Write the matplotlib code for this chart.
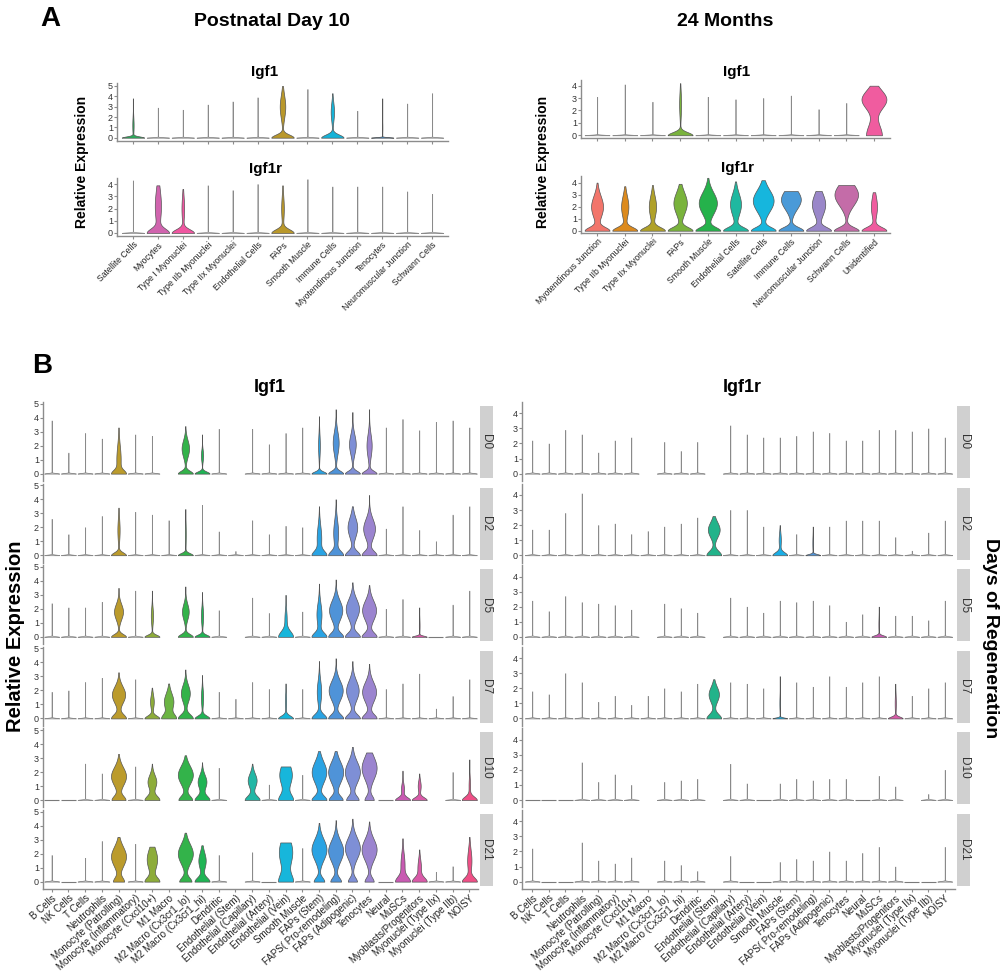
import matplotlib.pyplot as plt
import numpy as np

plt.rcParams['font.family'] = ['Liberation Sans', 'DejaVu Sans']

# ---------------- Panel A data ----------------
p10_cells = ["Satellite Cells", "Myocytes", "Type I Myonuclei", "Type IIb Myonuclei",
             "Type IIx Myonuclei", "Endothelial Cells", "FAPs", "Smooth Muscle",
             "Immune Cells", "Myotendinous Junction", "Tenocytes",
             "Neuromuscular Junction", "Schwann Cells"]
p10_colors = ["#2aad5a", "#d064ae", "#ef56a0", "#c9a13a", "#8fac3e", "#22b7a5", "#b9982b",
              "#1aaee6", "#16b3d8", "#9a87c9", "#3d8fd6", "#cc6cbd", "#f05c9f"]
# max expression per cell type; violin shape = (base, base_spread, bulge, bulge_centre, bulge_spread)
p10_igf1_top = [3.8, 2.9, 2.7, 3.2, 3.5, 3.9, 5.0, 4.7, 4.3, 2.6, 3.8, 3.3, 4.3]
p10_igf1_shape = {0: (1, 0.12, 0.06, 1.2, 0.8), 6: (1, 0.3, 0.25, 3.0, 1.1),
                  8: (1, 0.3, 0.15, 2.5, 0.9), 10: (1, 0.05, 0.02, 1.0, 0.5)}
p10_igf1r_top = [4.3, 3.9, 3.6, 3.9, 3.5, 4.0, 3.9, 4.4, 3.8, 3.8, 3.8, 3.4, 3.2]
p10_igf1r_shape = {1: (1, 0.35, 0.3, 2.2, 1.4), 2: (1, 0.3, 0.12, 2.0, 1.0),
                   6: (1, 0.3, 0.12, 2.0, 1.0)}

m24_cells = ["Myotendinous Junction", "Type IIb Myonuclei", "Type IIx Myonuclei", "FAPs",
             "Smooth Muscle", "Endothelial Cells", "Satellite Cells", "Immune Cells",
             "Neuromuscular Junction", "Schwann Cells", "Unidentified"]
m24_colors = ["#f2756b", "#dc8a1d", "#b0a129", "#79b33c", "#25b24b", "#1fb8a0",
              "#16b6dd", "#4a9ad8", "#9a87c9", "#c46ca8", "#f05c9f"]
m24_igf1_top = [3.1, 4.1, 2.7, 4.2, 3.1, 2.9, 3.0, 3.2, 2.1, 2.6, 4.0]
m24_igf1_shape = {3: (1, 0.25, 0.08, 2.5, 1.0), 10: (0.35, 0.9, 0.55, 2.9, 0.75)}
m24_igf1r_top = [4.0, 3.7, 3.8, 3.9, 4.4, 4.1, 4.2, 3.3, 3.3, 3.8, 3.2]
m24_igf1r_shape = {0: (1, 0.3, 0.5, 2.0, 0.9), 1: (1, 0.3, 0.3, 2.0, 0.9),
                   2: (1, 0.3, 0.3, 2.0, 0.9), 3: (1, 0.3, 0.55, 2.3, 0.9),
                   4: (1, 0.3, 0.75, 2.3, 0.9), 5: (1, 0.3, 0.45, 2.2, 0.9),
                   6: (1, 0.3, 0.85, 2.5, 0.9), 7: (1, 0.3, 0.8, 2.6, 0.8),
                   8: (1, 0.3, 0.55, 2.2, 0.9), 9: (1, 0.3, 0.95, 3.0, 0.9),
                   10: (1, 0.3, 0.25, 2.0, 0.9)}

# ---------------- Panel B data ----------------
b_cells = ["B Cells", "NK Cells", "T Cells", "Neutrophils", "Monocyte (Patrolling)",
           "Monocyte (Inflammatory)", "Monocyte (Cxcl10+)", "M1 Macro",
           "M2 Macro (Cx3cr1_lo)", "M2 Macro (Cx3cr1_hi)", "Dendritic",
           "Endothelial (Stem)", "Endothelial (Capillary)", "Endothelial (Artery)",
           "Endothelial (Vein)", "Smooth Muscle", "FAPs (Stem)", "FAPS( Pro-remodeling)",
           "FAPs (Adipogenic)", "Tenocytes", "Neural", "MuSCs", "Myoblasts/Progenitors",
           "Myonuclei (Type IIx)", "Myonuclei (Type IIb)", "NOISY"]
b_colors = ["#f07a6e", "#e88338", "#dc8c1a", "#cf9419", "#bb9b2c", "#a7a32c", "#8dac3a",
            "#6bb443", "#33b34a", "#1fb454", "#1bb67a", "#22b38a", "#22b7a5", "#1cb8c0",
            "#17b6db", "#1aaee6", "#2aa3e3", "#4f93d8", "#7e8fd6", "#9b84cf", "#b87ccd",
            "#c85ab2", "#d95aa8", "#e65b9e", "#ee5790", "#ef4f86"]
days = ["D0", "D2", "D5", "D7", "D10", "D21"]

igf1_d0 = [3.8, 1.5, 2.9, 2.5, 3.3, 2.8, 2.7, None, 3.4, 2.8, 3.2, None, 3.2, 2.1, 2.9, 3.3,
           4.1, 4.6, 4.4, 4.6, 3.3, 3.9, 3.1, 3.7, 3.8, 3.3]
igf1_d2 = [2.6, 1.5, 2.0, 2.8, 3.4, 3.1, 2.9, 2.5, 3.3, 3.6, 1.7, 0.3, 2.5, 1.5, 2.1, 2.0,
           3.5, 4.0, 3.5, 4.3, 1.9, 3.5, 1.8, 1.0, 2.9, 3.5]
igf1_d5 = [2.4, 2.1, 2.1, 2.5, 3.5, 3.3, 3.3, None, 3.6, 3.2, 1.9, None, 2.8, 1.7, 3.0, 1.8,
           3.8, 4.1, 3.9, 3.7, 2.0, 2.7, 2.1, 0.0, 2.3, 3.3]
igf1_d7 = [1.9, 2.0, 2.6, 2.9, 3.3, 2.8, 2.2, 2.5, 3.5, 3.1, 1.9, 1.4, 2.6, 2.1, 2.5, 2.1,
           4.1, 4.3, 4.1, 3.9, 2.1, 2.5, 3.2, 0.7, 1.6, 2.8]
igf1_d10 = [0.0, 0.0, 2.6, 1.9, 3.3, 2.4, 2.6, None, 3.2, 2.7, 2.3, None, 2.6, 1.1, 2.4, 1.8,
            3.5, 3.5, 3.8, 3.4, 0.0, 2.1, 1.9, None, 2.0, 2.9]
igf1_d21 = [1.9, 0.0, 1.7, 2.9, 3.2, 2.7, 2.5, None, 3.5, 2.6, 1.9, None, 2.1, 0.0, 2.8, 2.4,
            4.2, 4.4, 4.5, 4.3, 0.0, 3.1, 2.3, 0.7, 1.1, 3.2]

igf1_d0_shape = {4: (1, 0.25, 0.35, 1.0, 1.0), 8: (1, 0.2, 0.5, 1.8, 0.6),
                 9: (1, 0.15, 0.15, 1.3, 0.4), 16: (1, 0.15, 0.12, 2.0, 0.8),
                 17: (1, 0.2, 0.4, 2.2, 0.8), 18: (1, 0.2, 0.45, 2.1, 0.7),
                 19: (1, 0.2, 0.35, 2.0, 0.8)}
igf1_d2_shape = {4: (1, 0.2, 0.15, 1.8, 0.8), 8: (1, 0.15, 0.06, 1.5, 0.8),
                 16: (1, 0.3, 0.35, 1.2, 0.9), 17: (1, 0.3, 0.35, 1.6, 0.9),
                 18: (1, 0.3, 0.65, 2.0, 0.7), 19: (1, 0.3, 0.8, 1.9, 0.7)}
igf1_d5_shape = {4: (1, 0.2, 0.6, 1.8, 0.55), 6: (1, 0.15, 0.15, 1.5, 0.6),
                 8: (1, 0.2, 0.45, 1.8, 0.55), 9: (1, 0.15, 0.15, 1.5, 0.6),
                 14: (1, 0.4, 0.15, 1.3, 0.6), 16: (1, 0.3, 0.35, 1.6, 0.8),
                 17: (1, 0.3, 0.9, 1.9, 0.7), 18: (1, 0.3, 0.9, 2.0, 0.7),
                 19: (1, 0.3, 0.95, 1.9, 0.7), 22: (1, 0.08, 0.05, 0.8, 0.5)}
igf1_d7_shape = {4: (1, 0.3, 0.9, 1.7, 0.6), 6: (1, 0.2, 0.25, 1.2, 0.5),
                 7: (1, 0.3, 0.7, 1.2, 0.6), 8: (1, 0.3, 0.6, 1.8, 0.6),
                 9: (1, 0.2, 0.15, 1.5, 0.6), 14: (1, 0.2, 0.08, 1.2, 0.6),
                 16: (1, 0.3, 0.3, 1.9, 0.8), 17: (1, 0.3, 0.95, 2.0, 0.7),
                 18: (1, 0.3, 0.85, 2.0, 0.7), 19: (1, 0.3, 0.95, 1.9, 0.7)}
igf1_d10_shape = {4: (0.9, 0.3, 1.0, 1.7, 0.65), 6: (1, 0.3, 0.6, 1.3, 0.5),
                  8: (0.9, 0.3, 1.0, 1.8, 0.65), 9: (1, 0.3, 0.6, 1.3, 0.5),
                  12: (1, 0.3, 0.6, 1.4, 0.5), 14: (1, 0.4, 0.9, 1.8, 0.8),
                  16: (1, 0.3, 1.0, 2.0, 0.75), 17: (0.9, 0.3, 1.0, 2.0, 0.75),
                  18: (0.8, 0.3, 1.0, 2.0, 0.75), 19: (0.6, 0.3, 1.0, 2.3, 0.8),
                  21: (1, 0.2, 0.2, 0.8, 0.4), 22: (1, 0.2, 0.2, 1.0, 0.4),
                  25: (1, 0.25, 0.1, 1.0, 0.6)}
igf1_d21_shape = {4: (0.7, 0.3, 1.0, 1.8, 0.7), 6: (1, 0.3, 0.75, 1.6, 0.75),
                  8: (0.8, 0.3, 1.0, 2.0, 0.7), 9: (1, 0.3, 0.5, 1.5, 0.6),
                  14: (0.9, 0.5, 0.9, 2.1, 1.0), 16: (0.7, 0.3, 1.0, 2.3, 0.75),
                  17: (0.7, 0.3, 1.0, 2.2, 0.75), 18: (0.6, 0.3, 1.0, 2.4, 0.75),
                  19: (0.6, 0.3, 1.0, 2.3, 0.75), 21: (1, 0.35, 0.3, 1.2, 0.8),
                  22: (1, 0.3, 0.25, 1.0, 0.6), 25: (1, 0.3, 0.3, 1.5, 0.8)}

igf1r_d0 = [2.2, 2.0, 2.9, 2.6, 1.4, 2.2, 2.4, None, 2.1, 1.5, 2.1, None, 3.2, 2.6, 2.4, 2.4,
            2.5, 2.8, 2.7, 2.2, 2.2, 2.9, 2.9, 2.8, 3.0, 2.4]
igf1r_d2 = [1.7, 1.7, 2.8, 4.1, 2.0, 2.1, 1.4, 1.6, 1.9, 2.1, 2.5, 2.6, 3.0, 3.0, 1.9, 2.0,
            1.4, 1.9, 1.9, 2.3, 2.3, 2.3, 1.2, 0.3, 1.5, 2.3]
igf1r_d5 = [2.4, 1.7, 2.7, 2.3, 2.2, 2.1, 1.8, None, 2.2, 1.9, 1.6, None, 2.6, 2.0, 1.6, 2.4,
            2.3, 2.4, 2.1, 1.0, 1.5, 2.0, 1.4, 1.4, 1.1, 2.4]
igf1r_d7 = [1.8, 1.6, 3.0, 2.4, 1.1, 1.5, 0.9, 1.5, 2.0, 1.8, 2.3, 2.6, 2.4, 2.3, 2.0, 2.8,
            2.4, 2.1, 2.8, 2.1, 2.4, 2.8, 2.3, 1.5, 2.0, 2.4]
igf1r_d10 = [0.0, 0.0, 0.0, 2.5, 1.2, 1.7, 1.0, None, 1.2, 1.3, 1.4, None, 2.4, 1.1, 0.0, 1.1,
             1.4, 1.3, 1.4, 1.4, 0.0, 1.6, 0.9, None, 0.4, 2.0]
igf1r_d21 = [2.2, 0.0, 0.0, 2.6, 1.4, 1.2, 1.6, None, 1.4, 1.1, 0.7, None, 1.7, 0.0, 0.0, 1.3,
             1.5, 1.4, 2.0, 1.4, 1.9, 2.3, 1.0, 0.0, 0.0, 2.3]

igf1r_d0_shape = {}
igf1r_d2_shape = {11: (1, 0.3, 0.8, 1.7, 0.5), 15: (1, 0.2, 0.15, 1.0, 0.5),
                  17: (0.9, 0.08, 0.05, 0.8, 0.5)}
igf1r_d5_shape = {21: (1, 0.1, 0.05, 0.8, 0.5)}
igf1r_d7_shape = {11: (1, 0.3, 0.7, 1.6, 0.5), 15: (0.6, 0.06, 0.03, 1.0, 0.5),
                  22: (1, 0.12, 0.08, 1.0, 0.6)}
igf1r_d10_shape = {}
igf1r_d21_shape = {}

igf1_rows = [igf1_d0, igf1_d2, igf1_d5, igf1_d7, igf1_d10, igf1_d21]
igf1_shapes = [igf1_d0_shape, igf1_d2_shape, igf1_d5_shape, igf1_d7_shape,
               igf1_d10_shape, igf1_d21_shape]
igf1r_rows = [igf1r_d0, igf1r_d2, igf1r_d5, igf1r_d7, igf1r_d10, igf1r_d21]
igf1r_shapes = [igf1r_d0_shape, igf1r_d2_shape, igf1r_d5_shape, igf1r_d7_shape,
                igf1r_d10_shape, igf1r_d21_shape]

# ---------------- drawing helpers ----------------
W, H = 1008, 973
fig = plt.figure(figsize=(W / 100, H / 100), dpi=100)
LINE_SHAPE = (1, 0.04, 0.0, 0.0, 1.0)


def px_axes(x0, y0, x1, y1):
    """Axes from pixel box (top-left origin)."""
    return fig.add_axes([x0 / W, 1 - y1 / H, (x1 - x0) / W, (y1 - y0) / H])


def draw_violin(ax, x, top, shape, color, half=0.45):
    if top is None:
        return
    if top == 0:
        ax.hlines(0, x - half, x + half, color="#7a7a7a", lw=0.8, zorder=2)
        return
    if shape is None:
        shape, face, edge = LINE_SHAPE, "#c8c8c8", "#8a8a8a"
    else:
        face, edge = color, "#555555"
    b, h0, m, c, s = shape
    y = np.linspace(0, top, 300)
    w = b * np.exp(-0.5 * (y / h0) ** 2) + m * np.exp(-0.5 * ((y - c) / s) ** 2)
    w = np.maximum(w / w.max(), 0.012)
    ax.fill_betweenx(y, x - half * w, x + half * w, facecolor=face, edgecolor=edge,
                     lw=0.5, zorder=2)


def style_axes(ax, n, ylim, yticks, labels=None, bottom=True, rot=45, fs=6.2, xpad=0.6):
    ax.set_xlim(-xpad, n - 1 + xpad)
    ax.set_ylim(*ylim)
    ax.patch.set_alpha(0)
    for s in ("top", "right"):
        ax.spines[s].set_visible(False)
    ax.spines["left"].set_color("#8c8c8c")
    ax.spines["left"].set_linewidth(1.0)
    ax.set_yticks(yticks)
    ax.tick_params(axis="y", labelsize=6.5, length=2, pad=1, colors="#8c8c8c",
                   labelcolor="#333333")
    if bottom:
        ax.spines["bottom"].set_color("#8c8c8c")
        ax.spines["bottom"].set_linewidth(1.0)
        ax.set_xticks(range(n))
        ax.tick_params(axis="x", length=2, pad=1, colors="#8c8c8c", labelcolor="#222222")
        if labels:
            ax.set_xticklabels(labels, rotation=rot, ha="right", rotation_mode="anchor",
                               fontsize=fs)
        else:
            ax.set_xticklabels([])
    else:
        ax.spines["bottom"].set_visible(False)
        ax.set_xticks([])


def violin_panel(ax, cells, tops, shapes, colors):
    for i in range(len(cells)):
        draw_violin(ax, i, tops[i], shapes.get(i), colors[i])


# ---------------- Panel A ----------------
ax = px_axes(117, 83, 448, 141)
violin_panel(ax, p10_cells, p10_igf1_top, p10_igf1_shape, p10_colors)
style_axes(ax, len(p10_cells), (-0.32, 5.29), range(6), xpad=0.64)

ax = px_axes(117, 178, 448, 236)
violin_panel(ax, p10_cells, p10_igf1r_top, p10_igf1r_shape, p10_colors)
style_axes(ax, len(p10_cells), (-0.25, 4.5), range(5), labels=p10_cells, xpad=0.64)

ax = px_axes(581, 80, 890, 138)
violin_panel(ax, m24_cells, m24_igf1_top, m24_igf1_shape, m24_colors)
style_axes(ax, len(m24_cells), (-0.22, 4.46), range(5), xpad=0.58)

ax = px_axes(581, 176, 890, 233)
violin_panel(ax, m24_cells, m24_igf1r_top, m24_igf1r_shape, m24_colors)
style_axes(ax, len(m24_cells), (-0.19, 4.55), range(5), labels=m24_cells, xpad=0.58)

bold = dict(fontweight="bold", ha="center", va="center")
fig.text(50 / W, 1 - 19 / H, "A", fontsize=20, **bold)
fig.text(272 / W, 1 - 22 / H, "Postnatal Day 10", fontsize=14, **bold)
fig.text(725 / W, 1 - 22 / H, "24 Months", fontsize=14, **bold)
fig.text(265 / W, 1 - 72 / H, "Igf1", fontsize=11, **bold)
fig.text(265 / W, 1 - 169 / H, "Igf1r", fontsize=11, **bold)
fig.text(737 / W, 1 - 72 / H, "Igf1", fontsize=11, **bold)
fig.text(737 / W, 1 - 168 / H, "Igf1r", fontsize=11, **bold)
fig.text(82 / W, 1 - 162 / H, "Relative Expression", fontsize=10, rotation=90, **bold)
fig.text(543 / W, 1 - 162 / H, "Relative Expression", fontsize=10, rotation=90, **bold)

# ---------------- Panel B ----------------
row_top, pitch, row_h = 402, 81.6, 78.9
for r, day in enumerate(days):
    y0 = row_top + r * pitch
    y1 = y0 + row_h
    last = r == len(days) - 1

    ax = px_axes(43, y0, 478, y1)
    violin_panel(ax, b_cells, igf1_rows[r], igf1_shapes[r], b_colors)
    style_axes(ax, len(b_cells), (-0.52, 5.12), range(6), labels=b_cells if last else None,
               bottom=last, rot=42, fs=7, xpad=0.52)

    ax = px_axes(522, y0, 955, y1)
    violin_panel(ax, b_cells, igf1r_rows[r], igf1r_shapes[r], b_colors)
    style_axes(ax, len(b_cells), (-0.48, 4.75), range(5), labels=b_cells if last else None,
               bottom=last, rot=42, fs=7, xpad=0.62)

    for sx in (480, 957):
        sax = px_axes(sx, y0 + 4, sx + 13, y1 - 3)
        sax.set_facecolor("#d0d0d0")
        sax.set_xticks([])
        sax.set_yticks([])
        for s in sax.spines.values():
            s.set_visible(False)
        sax.text(0.5, 0.5, day, rotation=270, ha="center", va="center", fontsize=8.5,
                 color="#333333", transform=sax.transAxes)

fig.text(42 / W, 1 - 366 / H, "B", fontsize=20, **bold)
fig.text(270 / W, 1 - 387 / H, "Igf1", fontsize=13, **bold)
fig.text(742 / W, 1 - 387 / H, "Igf1r", fontsize=13, **bold)
fig.text(16 / W, 1 - 636 / H, "Relative Expression", fontsize=14.5, rotation=90, **bold)
fig.text(990 / W, 1 - 638 / H, "Days of Regeneration", fontsize=14, rotation=270, **bold)

fig.savefig("out.png", dpi=100)
